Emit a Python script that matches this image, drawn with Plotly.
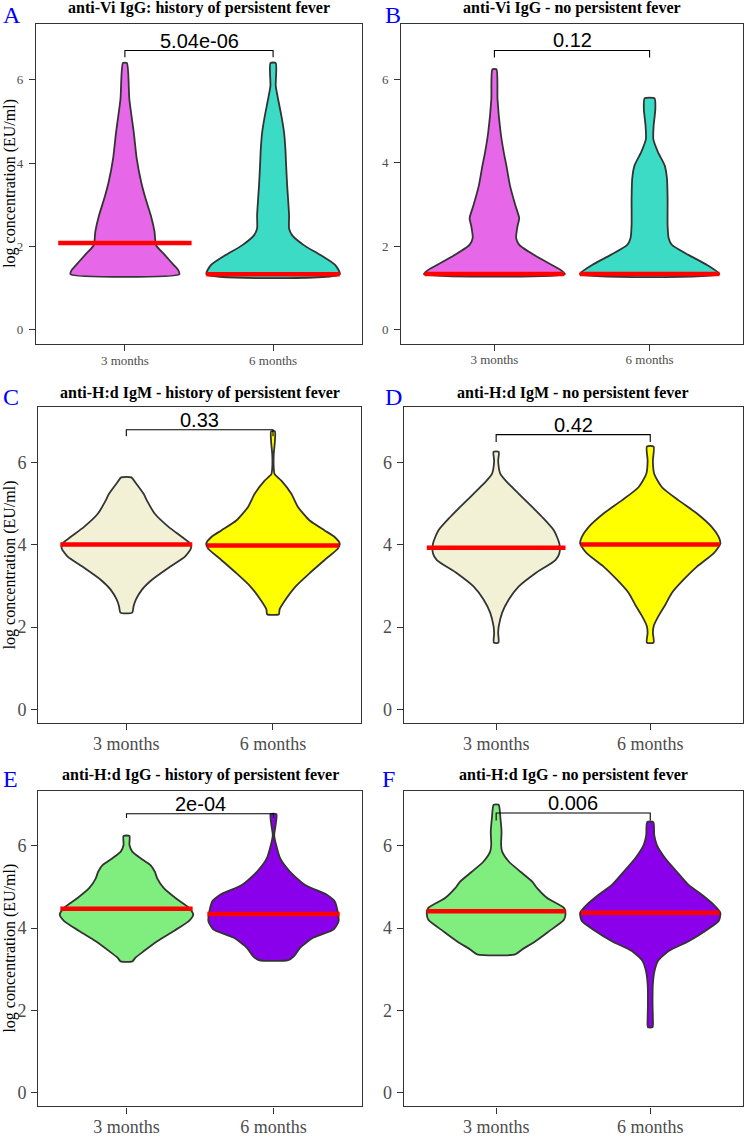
import plotly.graph_objects as go

W, H = 744, 1137

# ---------------- data ----------------
categories = ["3 months", "6 months"]
panel_letters = ["A", "B", "C", "D", "E", "F"]
panel_titles = [
    "anti-Vi IgG: history of persistent fever",
    "anti-Vi IgG - no persistent fever",
    "anti-H:d IgM - history of persistent fever",
    "anti-H:d IgM - no persistent fever",
    "anti-H:d IgG - history of persistent fever",
    "anti-H:d IgG - no persistent fever",
]
p_values = ["5.04e-06", "0.12", "0.33", "0.42", "2e-04", "0.006"]
bracket_y = [6.70, 6.70, 6.80, 6.68, 6.78, 6.80]
bracket_tip_y = [6.54, 6.53, 6.64, 6.50, 6.68, 6.62]
medians_3m = [2.08, 1.33, 4.01, 3.93, 4.47, 4.41]
medians_6m = [1.33, 1.33, 3.98, 4.01, 4.34, 4.37]
y_ticks = [0, 2, 4, 6]
y_title = "log concentration (EU/ml)"

# violin outlines: log concentration levels (bottom -> top) and half-widths
a3_y = [1.33, 1.43, 1.55, 1.79, 2.03, 2.35, 2.74, 3.14, 3.54, 4.10, 4.73, 5.53, 6.40]
a3_w = [0.367, 0.36, 0.33, 0.27, 0.21, 0.20, 0.175, 0.14, 0.11, 0.08, 0.06, 0.03, 0.013]
a6_y = [1.33, 1.55, 1.79, 2.03, 2.27, 2.43, 2.74, 3.14, 3.46, 3.94, 4.34, 4.73, 5.13, 5.53, 5.85, 6.40]
a6_w = [0.45, 0.42, 0.32, 0.207, 0.128, 0.108, 0.108, 0.101, 0.095, 0.088, 0.083, 0.074, 0.056, 0.034, 0.018, 0.018]
b3_y = [1.33, 1.43, 1.63, 1.87, 2.03, 2.20, 2.50, 2.67, 2.98, 3.46, 3.94, 4.26, 4.73, 5.53, 6.25]
b3_w = [0.454, 0.426, 0.33, 0.22, 0.16, 0.14, 0.15, 0.16, 0.135, 0.10, 0.077, 0.06, 0.04, 0.02, 0.013]
b6_y = [1.33, 1.55, 1.79, 2.03, 2.19, 2.51, 3.14, 3.62, 3.94, 4.26, 4.57, 4.89, 5.29, 5.55]
b6_w = [0.45, 0.37, 0.25, 0.144, 0.123, 0.116, 0.116, 0.112, 0.097, 0.054, 0.024, 0.026, 0.037, 0.032]
c3_y = [2.35, 2.51, 2.67, 2.91, 3.15, 3.47, 3.71, 3.91, 4.03, 4.19, 4.43, 4.76, 5.08, 5.24, 5.52, 5.64]
c3_w = [0.04, 0.05, 0.066, 0.107, 0.175, 0.30, 0.40, 0.44, 0.436, 0.38, 0.29, 0.193, 0.14, 0.118, 0.061, 0.035]
c6_y = [2.31, 2.43, 2.67, 2.99, 3.31, 3.63, 3.91, 4.03, 4.19, 4.35, 4.59, 4.92, 5.24, 5.56, 5.72, 5.88, 6.20, 6.52, 6.76]
c6_w = [0.04, 0.045, 0.086, 0.155, 0.25, 0.352, 0.443, 0.455, 0.42, 0.352, 0.25, 0.17, 0.125, 0.057, 0.011, 0.005, 0.005, 0.013, 0.013]
d3_y = [1.62, 1.86, 2.02, 2.35, 2.67, 2.99, 3.31, 3.63, 3.79, 4.03, 4.35, 4.67, 5.00, 5.24, 5.48, 5.72, 6.04, 6.26]
d3_w = [0.015, 0.013, 0.017, 0.039, 0.082, 0.147, 0.255, 0.385, 0.41, 0.41, 0.375, 0.30, 0.212, 0.147, 0.082, 0.028, 0.013, 0.017]
d6_y = [1.62, 1.86, 2.02, 2.27, 2.51, 2.83, 3.15, 3.47, 3.79, 4.03, 4.19, 4.43, 4.76, 5.08, 5.40, 5.72, 6.04, 6.39]
d6_w = [0.022, 0.017, 0.022, 0.054, 0.093, 0.14, 0.216, 0.303, 0.411, 0.455, 0.444, 0.40, 0.303, 0.184, 0.076, 0.026, 0.017, 0.022]
e3_y = [3.19, 3.28, 3.44, 3.68, 3.93, 4.17, 4.33, 4.49, 4.73, 4.97, 5.21, 5.37, 5.53, 5.70, 5.86, 6.02, 6.24]
e3_w = [0.04, 0.061, 0.118, 0.209, 0.322, 0.424, 0.454, 0.424, 0.333, 0.254, 0.209, 0.193, 0.163, 0.095, 0.039, 0.02, 0.02]
e6_y = [3.22, 3.32, 3.52, 3.77, 3.97, 4.17, 4.41, 4.65, 4.81, 5.05, 5.37, 5.70, 6.02, 6.26, 6.50, 6.77]
e6_w = [0.10, 0.14, 0.181, 0.272, 0.41, 0.443, 0.436, 0.416, 0.363, 0.215, 0.113, 0.045, 0.018, 0.005, 0.014, 0.02]
f3_y = [3.36, 3.48, 3.68, 3.92, 4.20, 4.37, 4.49, 4.73, 4.97, 5.13, 5.37, 5.62, 5.86, 6.02, 6.34, 6.66, 7.00]
f3_w = [0.124, 0.169, 0.255, 0.342, 0.44, 0.45, 0.44, 0.331, 0.266, 0.234, 0.158, 0.082, 0.039, 0.032, 0.035, 0.028, 0.016]
f6_y = [1.59, 1.82, 2.16, 2.64, 2.96, 3.20, 3.44, 3.68, 3.93, 4.17, 4.37, 4.57, 4.81, 5.05, 5.37, 5.70, 6.02, 6.26, 6.58]
f6_w = [0.015, 0.017, 0.015, 0.017, 0.028, 0.05, 0.119, 0.249, 0.357, 0.444, 0.455, 0.411, 0.335, 0.249, 0.173, 0.097, 0.043, 0.026, 0.02]

violins = [
    [(a3_y, a3_w), (a6_y, a6_w)],
    [(b3_y, b3_w), (b6_y, b6_w)],
    [(c3_y, c3_w), (c6_y, c6_w)],
    [(d3_y, d3_w), (d6_y, d6_w)],
    [(e3_y, e3_w), (e6_y, e6_w)],
    [(f3_y, f3_w), (f6_y, f6_w)],
]

# ---------------- style / layout ----------------
fill_colors = [
    ["#E667E8", "#3CDBC6"],
    ["#E667E8", "#3CDBC6"],
    ["#F2F0D5", "#FFFF00"],
    ["#F2F0D5", "#FFFF00"],
    ["#80EE7E", "#8A00EA"],
    ["#80EE7E", "#8A00EA"],
]
# panel boxes in pixels: (left, right, top, bottom)
boxes = [
    (36.0, 362.0, 24.0, 346.0),
    (401.3, 742.7, 24.0, 345.7),
    (38.3, 361.0, 410.0, 727.7),
    (403.7, 742.7, 410.0, 727.7),
    (38.3, 361.7, 795.7, 1113.3),
    (403.7, 742.7, 795.7, 1113.3),
]
tick_sizes = [13, 13, 18, 18, 18, 18]
title_y = [8.5, 8.5, 395, 395, 780, 780]
letter_pos = [(1, 15.5), (383, 15.5), (1, 399), (383, 399), (1, 784), (380, 784)]

SERIF = "Liberation Serif, Times New Roman, serif"
SANS = "Liberation Sans, Arial, sans-serif"
OUTLINE = "#333333"

fig = go.Figure()
annotations = []
layout_axes = {}

def px(x):
    return x / W

def py(y):
    return 1 - y / H

for i in range(6):
    sfx = "" if i == 0 else str(i + 1)
    xa, ya = "x" + sfx, "y" + sfx
    l, r, t, b = boxes[i]
    layout_axes["xaxis" + sfx] = dict(
        domain=[px(l), px(r)], range=[0.4, 2.6], anchor=ya,
        tickvals=[1, 2], ticktext=categories,
        showline=True, mirror=True, linecolor=OUTLINE, linewidth=1.2,
        ticks="outside", ticklen=6, tickcolor=OUTLINE, tickwidth=1.2,
        ticklabelstandoff=-2,
        tickfont=dict(family=SERIF, size=tick_sizes[i], color="#4D4D4D"),
        showgrid=False, zeroline=False, fixedrange=True,
    )
    layout_axes["yaxis" + sfx] = dict(
        domain=[py(b), py(t)], range=[-0.34, 7.34], anchor=xa,
        tickvals=y_ticks,
        showline=True, mirror=True, linecolor=OUTLINE, linewidth=1.2,
        ticks="outside", ticklen=6, tickcolor=OUTLINE, tickwidth=1.2,
        ticklabelstandoff=3 if i < 2 else 1,
        tickfont=dict(family=SERIF, size=tick_sizes[i], color="#4D4D4D"),
        showgrid=False, zeroline=False, fixedrange=True,
    )

    # violins
    for j in range(2):
        ys, ws = violins[i][j]
        c = j + 1
        xs = [c + w for w in ws] + [c - w for w in reversed(ws)] + [c + ws[0]]
        yy = list(ys) + list(reversed(ys)) + [ys[0]]
        fig.add_trace(go.Scatter(
            x=xs, y=yy, xaxis=xa, yaxis=ya, mode="lines",
            fill="toself", fillcolor=fill_colors[i][j],
            line=dict(color=OUTLINE, width=1.8, shape="spline", smoothing=0.6),
            hoverinfo="skip", showlegend=False,
        ))
    # median lines
    for j, med in enumerate([medians_3m[i], medians_6m[i]]):
        c = j + 1
        fig.add_trace(go.Scatter(
            x=[c - 0.45, c + 0.45], y=[med, med], xaxis=xa, yaxis=ya,
            mode="lines", line=dict(color="#FF0000", width=4.5),
            hoverinfo="skip", showlegend=False,
        ))
    # significance bracket
    fig.add_trace(go.Scatter(
        x=[1, 1, 2, 2], y=[bracket_tip_y[i], bracket_y[i], bracket_y[i], bracket_tip_y[i]],
        xaxis=xa, yaxis=ya, mode="lines", line=dict(color="black", width=1.1),
        hoverinfo="skip", showlegend=False,
    ))
    annotations.append(dict(
        x=1.5, y=bracket_y[i], xref=xa, yref=ya, text=p_values[i],
        showarrow=False, yanchor="bottom", yshift=-3,
        font=dict(family=SANS, size=20, color="black"),
    ))
    # panel title
    annotations.append(dict(
        x=px((l + r) / 2), y=py(title_y[i]), xref="paper", yref="paper",
        text="<b>" + panel_titles[i] + "</b>", showarrow=False,
        xanchor="center", yanchor="middle",
        font=dict(family=SERIF, size=16, color="black"),
    ))
    # panel letter
    lx, ly = letter_pos[i]
    annotations.append(dict(
        x=px(lx), y=py(ly), xref="paper", yref="paper", text=panel_letters[i],
        showarrow=False, xanchor="left", yanchor="middle",
        font=dict(family=SERIF, size=24, color="#0000FF"),
    ))
    # y-axis title (left column only)
    if i % 2 == 0:
        annotations.append(dict(
            x=px(10), y=py((t + b) / 2), xref="paper", yref="paper",
            text=y_title, showarrow=False, textangle=-90,
            xanchor="center", yanchor="middle",
            font=dict(family=SERIF, size=16, color="black"),
        ))

fig.update_layout(
    width=W, height=H, margin=dict(l=0, r=0, t=0, b=0),
    paper_bgcolor="white", plot_bgcolor="white",
    showlegend=False, annotations=annotations, **layout_axes,
)

fig.write_html(
    "out.html",
    config={"displayModeBar": False},
    post_script="document.body.style.margin='0';document.body.style.padding='0';",
)
